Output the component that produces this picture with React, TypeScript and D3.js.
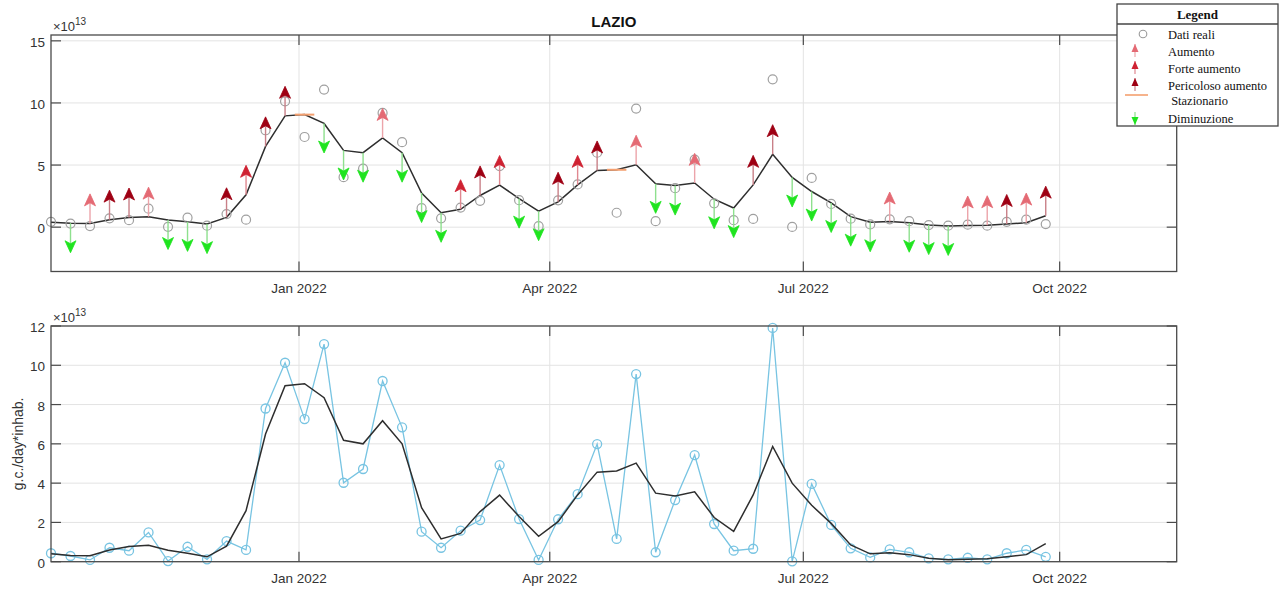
import React, { useEffect, useRef } from 'react';
import * as d3 from 'd3';

// Weekly sampling dates (Mondays)
const weekDates = [
  '2021-10-04', '2021-10-11', '2021-10-18', '2021-10-25', '2021-11-01', '2021-11-08', '2021-11-15',
  '2021-11-22', '2021-11-29', '2021-12-06', '2021-12-13', '2021-12-20', '2021-12-27', '2022-01-03',
  '2022-01-10', '2022-01-17', '2022-01-24', '2022-01-31', '2022-02-07', '2022-02-14', '2022-02-21',
  '2022-02-28', '2022-03-07', '2022-03-14', '2022-03-21', '2022-03-28', '2022-04-04', '2022-04-11',
  '2022-04-18', '2022-04-25', '2022-05-02', '2022-05-09', '2022-05-16', '2022-05-23', '2022-05-30',
  '2022-06-06', '2022-06-13', '2022-06-20', '2022-06-27', '2022-07-04', '2022-07-11', '2022-07-18',
  '2022-07-25', '2022-08-01', '2022-08-08', '2022-08-15', '2022-08-22', '2022-08-29', '2022-09-05',
  '2022-09-12', '2022-09-19', '2022-09-26',
];

// Measured viral load (x 1e13 g.c./day*inhab.)
const realValues = [
  0.43, 0.29, 0.09, 0.71, 0.56, 1.49, 0.03, 0.76, 0.12, 1.05, 0.6, 7.8, 10.13, 7.26,
  11.08, 4.02, 4.72, 9.2, 6.84, 1.53, 0.71, 1.58, 2.12, 4.92, 2.17, 0.09, 2.16, 3.44,
  5.99, 1.16, 9.55, 0.48, 3.14, 5.43, 1.92, 0.56, 0.66, 11.9, 0.02, 3.96, 1.87, 0.68,
  0.22, 0.63, 0.48, 0.17, 0.12, 0.2, 0.12, 0.43, 0.6, 0.25,
];

// Smoothed trend (x 1e13)
const trendValues = [
  0.4, 0.32, 0.3, 0.6, 0.77, 0.84, 0.58, 0.43, 0.25, 0.79, 2.6, 6.5, 8.96, 9.06,
  8.35, 6.18, 6.0, 7.18, 6.0, 2.75, 1.16, 1.44, 2.55, 3.39, 2.3, 1.29, 2.04, 3.4,
  4.56, 4.62, 5.02, 3.49, 3.35, 3.56, 2.25, 1.54, 3.4, 5.87, 4.0, 2.87, 1.95, 0.85,
  0.4, 0.45, 0.36, 0.17, 0.1, 0.13, 0.15, 0.25, 0.36, 0.92,
];

// Trend class per week: A aumento, F forte aumento, P pericoloso aumento, S stazionario, D diminuzione
const trendClass = [
  '', 'D', 'A', 'P', 'P', 'A', 'D', 'D', 'D', 'P', 'F', 'P', 'P', 'S',
  'D', 'D', 'D', 'A', 'D', 'D', 'D', 'F', 'P', 'F', 'D', 'D', 'P', 'F',
  'P', 'S', 'A', 'D', 'D', 'A', 'D', 'D', 'P', 'P', 'D', 'D', 'D', 'D',
  'D', 'A', 'D', 'D', 'D', 'A', 'A', 'P', 'A', 'P',
];

const yTicksTop = [0, 5, 10, 15];
const yTicksBottom = [0, 2, 4, 6, 8, 10, 12];
const xTickDates = ['2022-01-01', '2022-04-01', '2022-07-01', '2022-10-01'];
const xTickLabels = ['Jan 2022', 'Apr 2022', 'Jul 2022', 'Oct 2022'];
const xDomain = ['2021-10-04', '2022-11-12'];
const bottomDomain = [0, 12];

const legendLabels = ['Dati reali', 'Aumento', 'Forte aumento', 'Pericoloso aumento', ' Stazionario', 'Diminuzione'];
const legendKeys = ['circle', 'A', 'F', 'P', 'S', 'D'];

const COLORS: Record<string, { head: string; shaft: string }> = {
  A: { head: '#e46a74', shaft: '#eca4aa' },
  F: { head: '#cf2232', shaft: '#e08890' },
  P: { head: '#9e0013', shaft: '#c98088' },
  D: { head: '#1fe41f', shaft: '#8ee08e' },
};
const ORANGE = '#f4a070';
const SANS = '"Liberation Sans", Arial, Helvetica, sans-serif';
const SERIF = '"Liberation Serif", "Times New Roman", serif';

export default function App() {
  const ref = useRef<SVGSVGElement | null>(null);

  useEffect(() => {
    const svg = d3.select(ref.current);
    svg.selectAll('*').remove();

    const left = 51;
    const right = 1176.7;
    const top1 = 35, bot1 = 271.5;
    const top2 = 326, bot2 = 561.7;
    const tickLen = 10;

    const dates = weekDates.map((d) => new Date(d));
    const x = d3.scaleUtc().domain(xDomain.map((d) => new Date(d))).range([left, right]);
    const maxV = d3.max(realValues) as number;
    const y1 = d3.scaleLinear().domain([-0.3 * maxV, 1.3 * maxV]).range([bot1, top1]);
    const y2 = d3.scaleLinear().domain(bottomDomain).range([bot2, top2]);

    const drawGrid = (yScale: d3.ScaleLinear<number, number>, yTicks: number[], top: number, bot: number) => {
      const g = svg.append('g');
      yTicks.forEach((t) => {
        g.append('line').attr('x1', left).attr('x2', right).attr('y1', yScale(t)).attr('y2', yScale(t))
          .attr('stroke', '#e3e3e3').attr('stroke-width', 1);
      });
      xTickDates.forEach((d) => {
        const xx = x(new Date(d));
        g.append('line').attr('x1', xx).attr('x2', xx).attr('y1', top).attr('y2', bot)
          .attr('stroke', '#e3e3e3').attr('stroke-width', 1);
      });
    };

    const drawAxes = (yScale: d3.ScaleLinear<number, number>, yTicks: number[], top: number, bot: number) => {
      const g = svg.append('g');
      g.append('rect').attr('x', left).attr('y', top).attr('width', right - left).attr('height', bot - top)
        .attr('fill', 'none').attr('stroke', '#4a4a4a').attr('stroke-width', 1.3);
      yTicks.forEach((t) => {
        const yy = yScale(t);
        g.append('line').attr('x1', left).attr('x2', left + tickLen).attr('y1', yy).attr('y2', yy)
          .attr('stroke', '#4a4a4a').attr('stroke-width', 1.2);
        g.append('line').attr('x1', right - tickLen).attr('x2', right).attr('y1', yy).attr('y2', yy)
          .attr('stroke', '#4a4a4a').attr('stroke-width', 1.2);
        g.append('text').attr('x', left - 6).attr('y', yy + 6).attr('text-anchor', 'end')
          .attr('font-family', SANS).attr('font-size', 13.5).attr('fill', '#333').text(String(t));
      });
      xTickDates.forEach((d, i) => {
        const xx = x(new Date(d));
        g.append('line').attr('x1', xx).attr('x2', xx).attr('y1', bot - tickLen).attr('y2', bot)
          .attr('stroke', '#4a4a4a').attr('stroke-width', 1.2);
        g.append('line').attr('x1', xx).attr('x2', xx).attr('y1', top).attr('y2', top + tickLen)
          .attr('stroke', '#4a4a4a').attr('stroke-width', 1.2);
        g.append('text').attr('x', xx).attr('y', bot + 21).attr('text-anchor', 'middle')
          .attr('font-family', SANS).attr('font-size', 13.5).attr('fill', '#333').text(xTickLabels[i]);
      });
      // exponent label
      const ex = g.append('text').attr('x', left + 2).attr('y', top - 4)
        .attr('font-family', SANS).attr('font-size', 13).attr('fill', '#333');
      ex.append('tspan').text('\u00d710');
      ex.append('tspan').attr('dy', -6).attr('font-size', 10).text('13');
    };

    const line = (ys: d3.ScaleLinear<number, number>) =>
      d3.line<number>().x((_, i) => x(dates[i])).y((v) => ys(v));

    // ---------- top panel ----------
    drawGrid(y1, yTicksTop, top1, bot1);
    const g1 = svg.append('g');
    g1.append('path').datum(trendValues).attr('d', line(y1)).attr('fill', 'none')
      .attr('stroke', '#2e2e2e').attr('stroke-width', 1.5);
    g1.selectAll('circle.real').data(realValues).enter().append('circle')
      .attr('cx', (_, i) => x(dates[i])).attr('cy', (v) => y1(v)).attr('r', 4.5)
      .attr('fill', 'none').attr('stroke', '#a0a0a0').attr('stroke-width', 1.2);

    const arrowLen = y1(0) - y1(0.2 * maxV);
    const headL = 12, headW = 5.5;
    trendClass.forEach((c, i) => {
      if (!c) return;
      const xx = x(dates[i]);
      const yy = y1(trendValues[i]);
      if (c === 'S') {
        const d0 = new Date(dates[i].getTime() - 3.5 * 864e5);
        const d1 = new Date(dates[i].getTime() + 3.5 * 864e5);
        g1.append('line').attr('x1', x(d0)).attr('x2', x(d1)).attr('y1', yy).attr('y2', yy)
          .attr('stroke', ORANGE).attr('stroke-width', 2);
        return;
      }
      const dir = c === 'D' ? 1 : -1;
      const tip = yy + dir * arrowLen;
      const col = COLORS[c];
      g1.append('line').attr('x1', xx).attr('x2', xx).attr('y1', yy).attr('y2', tip - dir * headL * 0.5)
        .attr('stroke', col.shaft).attr('stroke-width', 1.4);
      g1.append('path')
        .attr('d', `M${xx},${tip} L${xx - headW},${tip - dir * headL} L${xx},${tip - dir * headL * 0.75} L${xx + headW},${tip - dir * headL} Z`)
        .attr('fill', col.head).attr('stroke', col.head).attr('stroke-width', 0.8);
    });
    drawAxes(y1, yTicksTop, top1, bot1);

    svg.append('text').attr('x', (left + right) / 2).attr('y', 27).attr('text-anchor', 'middle')
      .attr('font-family', SANS).attr('font-weight', 'bold').attr('font-size', 15).attr('fill', '#111')
      .text('LAZIO');

    // ---------- bottom panel ----------
    drawGrid(y2, yTicksBottom, top2, bot2);
    svg.append('path').datum(realValues).attr('d', line(y2)).attr('fill', 'none')
      .attr('stroke', '#78c4e2').attr('stroke-width', 1.3);
    svg.selectAll('circle.blue').data(realValues).enter().append('circle')
      .attr('cx', (_, i) => x(dates[i])).attr('cy', (v) => y2(v)).attr('r', 4.5)
      .attr('fill', 'none').attr('stroke', '#78c4e2').attr('stroke-width', 1.3);
    svg.append('path').datum(trendValues).attr('d', line(y2)).attr('fill', 'none')
      .attr('stroke', '#2e2e2e').attr('stroke-width', 1.5);
    drawAxes(y2, yTicksBottom, top2, bot2);

    svg.append('text')
      .attr('transform', `translate(${23},${(top2 + bot2) / 2}) rotate(-90)`)
      .attr('text-anchor', 'middle').attr('font-family', SANS).attr('font-size', 14).attr('fill', '#333')
      .text('g.c./day*inhab.');

    // ---------- legend ----------
    const lg = svg.append('g');
    const lx = 1117, ly = 4, lw = 161, lh = 122;
    lg.append('rect').attr('x', lx).attr('y', ly).attr('width', lw).attr('height', lh)
      .attr('fill', '#fff').attr('stroke', '#444').attr('stroke-width', 1.3);
    lg.append('line').attr('x1', lx).attr('x2', lx + lw).attr('y1', 24).attr('y2', 24)
      .attr('stroke', '#444').attr('stroke-width', 1.3);
    lg.append('text').attr('x', lx + lw / 2).attr('y', 18.5).attr('text-anchor', 'middle')
      .attr('font-family', SERIF).attr('font-weight', 'bold').attr('font-size', 13).attr('fill', '#111')
      .text('Legend');
    const rowY = [34, 51, 68, 85, 100, 118];
    legendLabels.forEach((lab, i) => {
      const cy = rowY[i];
      const key = legendKeys[i];
      const ix = 1135;
      if (key === 'circle') {
        lg.append('circle').attr('cx', 1143).attr('cy', cy).attr('r', 3.8)
          .attr('fill', 'none').attr('stroke', '#999').attr('stroke-width', 1.1);
      } else if (key === 'S') {
        lg.append('line').attr('x1', 1125).attr('x2', 1148).attr('y1', cy - 5).attr('y2', cy - 5)
          .attr('stroke', ORANGE).attr('stroke-width', 1.6);
      } else {
        const col = COLORS[key];
        const dir = key === 'D' ? 1 : -1;
        const y0 = cy - dir * 6;
        const tip = cy + dir * 7;
        lg.append('line').attr('x1', ix).attr('x2', ix).attr('y1', y0).attr('y2', tip)
          .attr('stroke', col.shaft).attr('stroke-width', 1.2);
        lg.append('path')
          .attr('d', `M${ix},${tip} L${ix - 3.5},${tip - dir * 8} L${ix + 3.5},${tip - dir * 8} Z`)
          .attr('fill', col.head);
      }
      lg.append('text').attr('x', 1168).attr('y', cy + 4.5).attr('font-family', SERIF)
        .attr('font-size', 12.5).attr('fill', '#111')
        .style('white-space', 'pre').text(lab);
    });
  }, []);

  return (
    <svg
      ref={ref}
      width={1285}
      height={594}
      style={{ position: 'absolute', left: 0, top: 0, background: '#fff' }}
    />
  );
}
